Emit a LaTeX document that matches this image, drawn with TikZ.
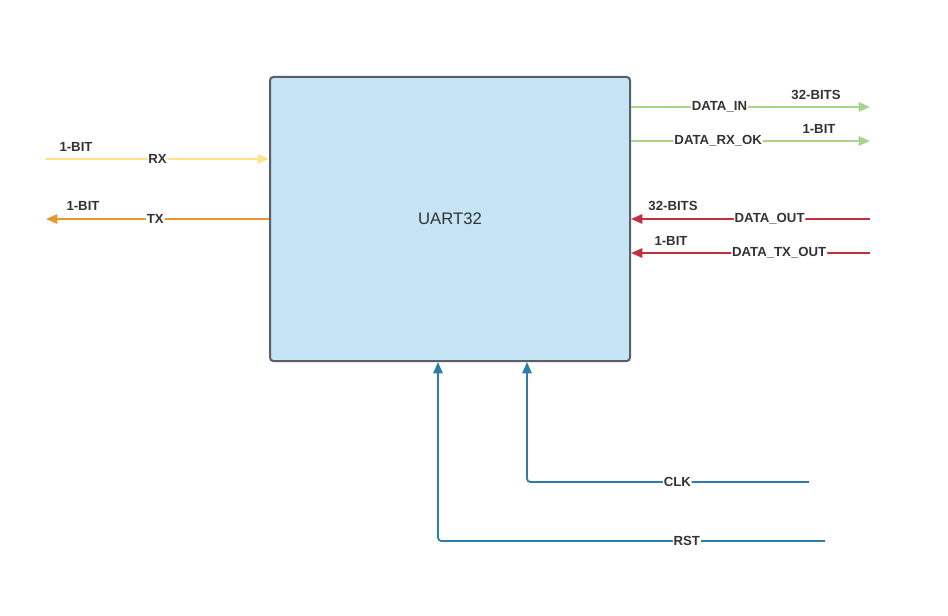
\documentclass[tikz,border=0pt]{standalone}
\usepackage{fontspec}
\setmainfont{Liberation Sans}
\usetikzlibrary{arrows.meta}
\definecolor{boxfill}{HTML}{C5E4F6}
\definecolor{boxline}{HTML}{5A5E66}
\definecolor{cyel}{HTML}{FDE38C}
\definecolor{cora}{HTML}{E8962E}
\definecolor{cgrn}{HTML}{A8D58A}
\definecolor{cred}{HTML}{C23040}
\definecolor{cblu}{HTML}{2C7DAA}
\definecolor{ctxt}{HTML}{333333}
\tikzset{
  blk/.style={draw=boxline, line width=1.5pt, fill=boxfill, rounded corners=2.5pt,
    minimum width=270pt, minimum height=213pt, inner sep=0pt,
    font=\fontsize{12.5}{14}\selectfont, text=ctxt},
  sig/.style={line width=1.35pt, -{Triangle[length=8.5pt,width=7pt]}, rounded corners=2.5pt},
  lbl/.style={fill=white, inner sep=0.6pt, font=\bfseries\fontsize{9.9}{11}\selectfont, text=ctxt},
  bits/.style={inner sep=0pt, font=\bfseries\fontsize{9.9}{11}\selectfont, text=ctxt},
}
\begin{document}
\begin{tikzpicture}[x=0.75pt,y=-0.75pt]
\useasboundingbox (0,0) rectangle (948,616);
\node[blk] (uart) at (450,219) {UART32};
% free ends
\coordinate (rxs) at (46,159);
\coordinate (txe) at (46,219);
\coordinate (dine) at (870,107);
\coordinate (rxoke) at (870,141);
\coordinate (douts) at (870,219);
\coordinate (dtxs) at (870,253);
\coordinate (clks) at (809,482);
\coordinate (rsts) at (825,541);
\coordinate (clkx) at (527,0);
\coordinate (rstx) at (438,0);
% left side
\draw[sig, draw=cyel] (rxs) -- (uart.west |- rxs) node[lbl, pos=0.5] {RX};
\draw[sig, draw=cora] (uart.west |- txe) -- (txe) node[lbl, pos=0.51] {TX};
\node[bits] (b1) at (76,147) {1-BIT};
\node[bits] (b2) at (83,206) {1-BIT};
% right side
\draw[sig, draw=cgrn] (uart.east |- dine) -- (dine) node[lbl, pos=0.37] {DATA\_IN};
\draw[sig, draw=cgrn] (uart.east |- rxoke) -- (rxoke) node[lbl, pos=0.365] {DATA\_RX\_OK};
\draw[sig, draw=cred] (douts) -- (uart.east |- douts) node[lbl, pos=0.42] {DATA\_OUT};
\draw[sig, draw=cred] (dtxs) -- (uart.east |- dtxs) node[lbl, pos=0.38] {DATA\_TX\_OUT};
\node[bits] (b3) at (816,95) {32-BITS};
\node[bits] (b4) at (819,129) {1-BIT};
\node[bits] (b5) at (673,206) {32-BITS};
\node[bits] (b6) at (671,241) {1-BIT};
% bottom
\draw[sig, draw=cblu] (clks) -- (clkx |- clks) node[lbl, pos=0.467] {CLK} -- (clkx |- uart.south);
\draw[sig, draw=cblu] (rsts) -- (rstx |- rsts) node[lbl, pos=0.357] {RST} -- (rstx |- uart.south);
\end{tikzpicture}
\end{document}
